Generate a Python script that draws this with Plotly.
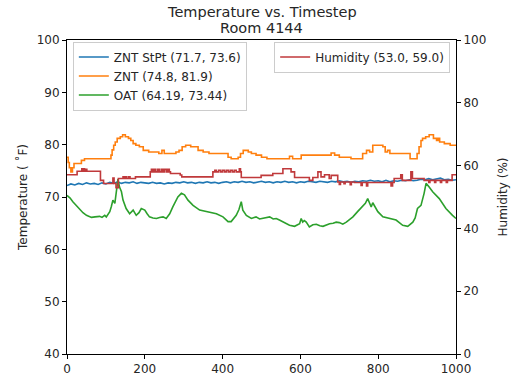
import plotly.graph_objects as go

# ---- data ----
stpt_t = list(range(0, 1001, 10))
stpt_v = [72.2, 72.5, 72.3, 72.6, 72.4, 72.7, 72.5, 72.6, 72.4, 72.7,
          72.5, 72.8, 72.6, 72.9, 72.6, 72.8, 72.7, 72.9, 72.6, 72.8,
          72.7, 72.6, 72.8, 72.6, 72.7, 72.5, 72.7, 72.6, 72.8, 72.7,
          72.9, 72.7, 72.8, 72.6, 72.8, 72.7, 72.9, 72.7, 72.8, 72.6,
          72.8, 72.9, 72.7, 72.9, 72.8, 73.0, 72.8, 72.9, 72.7, 72.9,
          73.0, 72.8, 72.9, 72.7, 72.9, 72.8, 73.0, 72.8, 72.9, 72.7,
          72.9, 72.8, 73.0, 72.9, 72.8, 73.0, 72.9, 72.8, 73.0, 72.9,
          73.1, 72.9, 73.0, 72.8, 73.0, 72.9, 73.1, 73.0, 73.2, 73.0,
          73.1, 72.9, 73.2, 72.9, 73.1, 73.0, 73.2, 73.1, 73.3, 73.1,
          73.2, 73.4, 73.3, 73.5, 73.3, 73.4, 73.6, 73.3, 73.4, 73.2, 73.3]

znt_t = [0, 3, 6, 10, 14, 18, 37, 45, 110, 113, 116, 120, 124, 129, 137, 143, 150, 158,
         164, 170, 177, 186, 196, 210, 236, 244, 250, 280, 288, 296, 305, 318, 328, 337,
         350, 365, 414, 422, 440, 446, 453, 460, 466, 474, 486, 500, 514, 568, 572, 580,
         602, 679, 688, 700, 730, 755, 760, 770, 778, 786, 807, 812, 818, 824, 830, 880,
         882, 897, 900, 905, 910, 914, 922, 931, 942, 950, 954, 958, 970, 985, 1000]
znt_v = [77.6, 76.6, 75.6, 74.8, 75.6, 76.4, 77.0, 77.3, 77.3, 78.0, 79.0, 79.9, 80.5, 81.2,
         81.5, 81.9, 81.5, 81.2, 80.8, 80.2, 79.9, 79.6, 78.9, 78.6, 78.3, 78.9, 78.3, 78.6,
         78.9, 79.6, 79.9, 79.6, 79.6, 78.9, 78.6, 78.3, 77.6, 77.3, 77.6, 78.3, 78.9, 78.9,
         78.6, 78.3, 78.0, 77.6, 77.3, 77.3, 77.8, 77.3, 78.0, 78.4, 78.0, 77.6, 77.3, 77.3,
         78.3, 78.9, 78.6, 79.9, 79.9, 79.6, 78.6, 78.9, 78.3, 78.3, 77.3, 77.3, 78.3, 79.6,
         80.8, 81.2, 81.5, 81.9, 81.2, 80.8, 81.2, 80.5, 80.2, 79.9, 79.9]

oat_t = [0, 8, 15, 24, 33, 41, 50, 57, 63, 72, 84, 90, 97, 101, 106, 110, 114, 118, 123,
         127, 131, 135, 140, 144, 152, 161, 166, 170, 178, 185, 191, 200, 206, 212, 221,
         230, 238, 247, 255, 264, 272, 279, 285, 294, 302, 311, 324, 341, 358, 372, 384,
         401, 414, 422, 435, 442, 448, 452, 461, 474, 486, 495, 504, 512, 521, 530, 538,
         546, 555, 563, 572, 585, 592, 598, 602, 606, 610, 615, 623, 632, 641, 650, 658,
         667, 675, 684, 692, 700, 709, 718, 727, 735, 747, 760, 767, 773, 778, 782, 786,
         790, 799, 812, 829, 846, 863, 876, 889, 895, 901, 910, 918, 923, 931, 940, 957,
         974, 991, 1000]
oat_v = [70.3, 69.8, 69.1, 68.3, 67.5, 67.0, 66.5, 66.3, 66.1, 66.2, 66.3, 66.1, 66.5, 66.2,
         66.8, 67.2, 68.2, 69.4, 68.8, 71.3, 73.4, 71.9, 71.0, 69.4, 67.8, 66.8, 67.1, 67.5,
         66.5, 67.0, 67.8, 67.5, 66.8, 66.2, 66.0, 65.9, 66.1, 66.2, 65.9, 66.8, 68.1, 69.2,
         70.0, 70.7, 70.4, 69.4, 68.4, 67.5, 67.2, 67.0, 66.8, 66.2, 65.3, 65.3, 66.5, 67.6,
         69.1, 67.5, 66.5, 65.9, 66.2, 65.8, 65.9, 66.1, 66.2, 65.8, 65.9, 65.6, 65.3, 65.0,
         64.6, 64.4, 64.7, 64.9, 65.9, 65.2, 65.5, 65.2, 64.3, 64.7, 64.8, 64.5, 64.4, 64.7,
         64.9, 65.0, 65.2, 65.1, 64.8, 65.2, 65.7, 66.2, 67.2, 68.2, 68.8, 69.7, 68.9, 68.1,
         68.9, 68.4, 67.2, 66.2, 65.9, 65.6, 64.6, 64.4, 65.2, 66.0, 67.8, 68.4, 70.7, 72.6,
         71.9, 71.0, 69.7, 67.8, 66.5, 65.9]

hum_t = [0, 26, 38, 40, 43, 45, 48, 51, 86, 94, 118, 121, 126, 132, 141, 144, 147, 150, 153,
         158, 162, 176, 214, 217, 220, 224, 228, 233, 237, 242, 246, 250, 255, 259, 263, 266,
         291, 295, 375, 380, 384, 390, 395, 400, 405, 410, 415, 420, 425, 430, 435, 439, 443,
         446, 448, 499, 529, 555, 576, 585, 623, 632, 645, 653, 662, 674, 679, 696, 700, 703,
         712, 715, 728, 731, 739, 756, 759, 770, 773, 833, 837, 841, 858, 862, 884, 888, 918,
         930, 933, 945, 948, 960, 963, 975, 978, 990, 1000]
hum_v = [57.1, 58.2, 59.0, 58.2, 59.0, 58.2, 58.8, 58.2, 55.3, 54.3, 56.0, 54.3, 53.0, 55.9,
         55.9, 56.4, 55.9, 56.4, 55.9, 56.4, 55.9, 56.4, 58.0, 58.8, 58.0, 58.8, 58.0, 58.8,
         58.0, 58.8, 58.0, 58.8, 58.0, 58.8, 58.0, 57.5, 57.0, 56.4, 58.0, 58.5, 58.0, 58.5,
         58.0, 58.5, 58.0, 58.5, 58.0, 58.5, 58.0, 58.5, 58.0, 58.0, 59.0, 58.0, 56.2, 56.9,
         57.5, 59.0, 58.0, 56.2, 55.3, 56.2, 58.0, 56.4, 57.1, 55.9, 56.9, 54.8, 54.0, 54.8,
         54.2, 54.8, 53.9, 54.8, 54.6, 53.7, 54.6, 53.5, 54.6, 53.5, 54.6, 55.9, 57.1, 55.3,
         58.0, 55.9, 55.3, 54.6, 55.3, 54.6, 55.3, 54.6, 55.3, 54.6, 55.3, 57.1, 57.1]

title_lines = ["Temperature vs. Timestep", "Room 4144"]

FONT = "DejaVu Sans"
TXT = "#262626"
FS = 12

fig = go.Figure()
fig.add_trace(go.Scatter(x=stpt_t, y=stpt_v, mode="lines", name="ZNT StPt (71.7, 73.6)",
                         line=dict(color="#1f77b4", width=1.6), legend="legend"))
fig.add_trace(go.Scatter(x=znt_t, y=znt_v, mode="lines", name="ZNT (74.8, 81.9)",
                         line=dict(color="#ff7f0e", width=1.6, shape="hv"), legend="legend"))
fig.add_trace(go.Scatter(x=oat_t, y=oat_v, mode="lines", name="OAT (64.19, 73.44)",
                         line=dict(color="#2ca02c", width=1.6), legend="legend"))
fig.add_trace(go.Scatter(x=hum_t, y=hum_v, mode="lines", name="Humidity (53.0, 59.0)",
                         line=dict(color="#c0393b", width=1.6, shape="hv"),
                         yaxis="y2", legend="legend2"))

axis_common = dict(showline=True, linecolor="black", linewidth=1, ticks="outside",
                   ticklen=4, tickcolor="black", showgrid=False, zeroline=False,
                   automargin=False,
                   tickfont=dict(family=FONT, size=FS, color=TXT))

fig.update_layout(
    width=513, height=381,
    margin=dict(l=67, r=57, t=40, b=27, autoexpand=False),
    paper_bgcolor="white", plot_bgcolor="white",
    font=dict(family=FONT, size=FS, color=TXT),
    xaxis=dict(range=[0, 1000], dtick=200, mirror=True, **axis_common),
    yaxis=dict(range=[40, 100], dtick=10, mirror=True,
               title=dict(text="Temperature ( ˚F)", font=dict(family=FONT, size=FS, color=TXT),
                          standoff=6),
               **axis_common),
    yaxis2=dict(range=[0, 100], dtick=20, overlaying="y", side="right",
                title=dict(text="Humidity (%)", font=dict(family=FONT, size=FS, color=TXT),
                           standoff=13),
                **axis_common),
    legend=dict(x=0.015, y=0.995, xanchor="left", yanchor="top",
                bgcolor="rgba(255,255,255,0.8)", bordercolor="#ccc", borderwidth=1,
                font=dict(family=FONT, size=FS, color=TXT), tracegroupgap=0,
                itemwidth=30),
    legend2=dict(x=0.985, y=0.995, xanchor="right", yanchor="top",
                 bgcolor="rgba(255,255,255,0.8)", bordercolor="#ccc", borderwidth=1,
                 font=dict(family=FONT, size=FS, color=TXT), itemwidth=30),
    showlegend=True,
    annotations=[
        dict(text=title_lines[0], xref="paper", yref="paper", x=0.501, y=1.089,
             xanchor="center", yanchor="middle", showarrow=False,
             font=dict(family=FONT, size=14.5, color=TXT)),
        dict(text=title_lines[1], xref="paper", yref="paper", x=0.501, y=1.037,
             xanchor="center", yanchor="middle", showarrow=False,
             font=dict(family=FONT, size=14.5, color=TXT)),
    ],
)

# remove the default page margin so the 513x381 figure fills the window exactly
fig.write_html("out.html", config={"displayModeBar": False},
               post_script="document.body.style.margin='0px';")
